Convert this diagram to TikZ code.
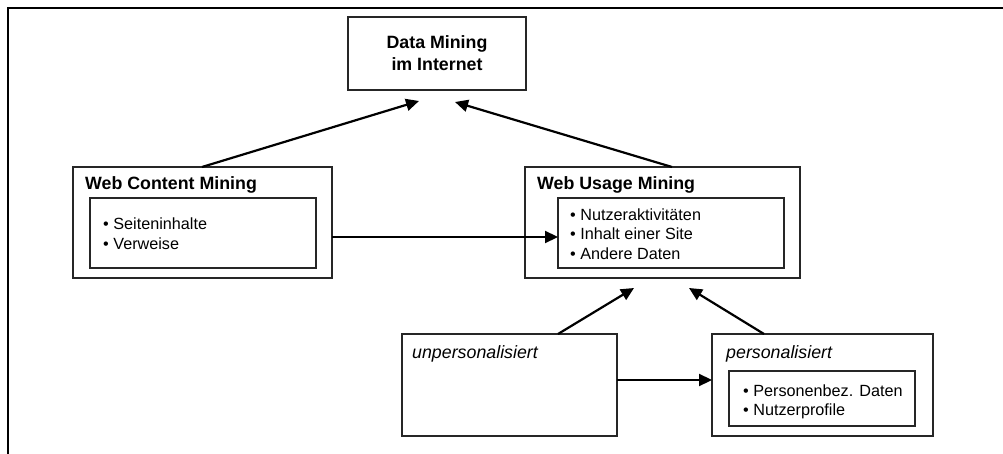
\documentclass[tikz,border=0pt]{standalone}
\usepackage{fontspec}
\setmainfont{Liberation Sans}
\usetikzlibrary{arrows.meta,calc}
\begin{document}
\begin{tikzpicture}[x=1pt,y=1pt,
  frameline/.style={line width=1.2pt,black},
  box/.style={draw=black!85,line width=1.2pt,rectangle,outer sep=0pt,inner sep=0pt,anchor=north west},
  titletext/.style={font=\fontsize{17.8pt}{22pt}\selectfont\bfseries,inner sep=0pt,anchor=base west},
  itext/.style={font=\fontsize{17.8pt}{22pt}\selectfont\itshape,inner sep=0pt,anchor=base west},
  bullettext/.style={font=\fontsize{16.2pt}{19.5pt}\selectfont,inner sep=0pt,anchor=base west},
  arr/.style={line width=2.2pt,-{Triangle[length=13pt,width=12pt]}}
]
\useasboundingbox (0,0) rectangle (1003,-454);
% frame
\coordinate (f1) at (8,-454);
\coordinate (f2) at (8,-8);
\coordinate (f3) at (1003,-8);
\draw[frameline] (f1) -- (f2) -- (f3);

% top box
\node[box,minimum width=178pt,minimum height=73pt,align=center,
  font=\fontsize{17.8pt}{22pt}\selectfont\bfseries] (dm) at (348,-17) {Data Mining\\im Internet};

% Web Content Mining
\node[box,minimum width=259pt,minimum height=111pt] (wcm) at (73,-167) {};
\node[box,minimum width=226pt,minimum height=70pt] (wcmin) at (90,-198) {};
\node[titletext] (wcmt) at (85,-189.5) {Web Content Mining};
\node[bullettext] (wcm1) at (103,-229.5) {• Seiteninhalte};
\node[bullettext] (wcm2) at (103,-249.5) {• Verweise};

% Web Usage Mining
\node[box,minimum width=275pt,minimum height=111pt] (wum) at (525,-167) {};
\node[box,minimum width=226pt,minimum height=70pt] (wumin) at (558,-198) {};
\node[titletext] (wumt) at (537,-189.5) {Web Usage Mining};
\node[bullettext] (wum1) at (570,-220.5) {• Nutzeraktivitäten};
\node[bullettext] (wum2) at (570,-240) {• Inhalt einer Site};
\node[bullettext] (wum3) at (570,-259.5) {• Andere Daten};

% unpersonalisiert
\node[box,minimum width=215pt,minimum height=102pt] (unp) at (402,-334) {};
\node[itext] (unpt) at (412,-358.5) {unpersonalisiert};

% personalisiert
\node[box,minimum width=221pt,minimum height=102pt] (per) at (712,-334) {};
\node[box,minimum width=186pt,minimum height=55pt] (perin) at (729,-371) {};
\node[itext] (pert) at (726,-358.5) {personalisiert};
\node[bullettext] (per1) at (743,-396) {• Personenbez. Daten};
\node[bullettext] (per2) at (743,-415) {• Nutzerprofile};

% arrow targets
\coordinate (tipL) at (419,-101);
\coordinate (tipR) at (455,-102);
\coordinate (tipBL) at (634,-288);
\coordinate (tipBR) at (689,-288);

\draw[arr] ($(wcm.north west)+(129,0)$) -- (tipL);
\draw[arr] ($(wum.north west)+(147,0)$) -- (tipR);
\coordinate (hA) at ($(wumin.west)+(0,-4)$);
\draw[arr] (hA -| wcm.east) -- (hA);
\draw[arr] ($(unp.north west)+(156,0)$) -- (tipBL);
\draw[arr] ($(per.north west)+(52,0)$) -- (tipBR);
\coordinate (hB) at ($(per.north west)+(0,-46)$);
\draw[arr] (hB -| unp.east) -- (hB);
\end{tikzpicture}
\end{document}
